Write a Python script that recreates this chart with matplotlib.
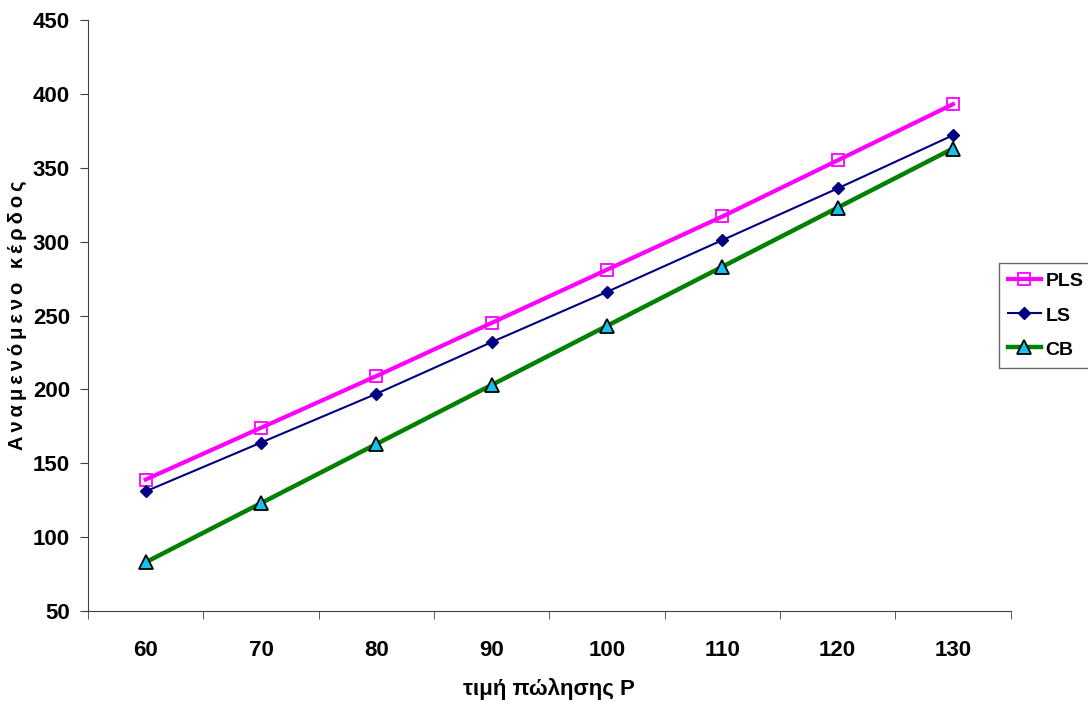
import numpy as np
from matplotlib import pyplot as plt
from matplotlib.ticker import FixedLocator

# data
prices = [60, 70, 80, 90, 100, 110, 120, 130]
pls = [139, 174, 209, 245, 281, 317, 355, 393]
ls = [131, 164, 197, 232, 266, 301, 336, 372]
cb = [83, 123, 163, 203, 243, 283, 323, 363]

plt.rcParams["font.family"] = ["Liberation Sans", "DejaVu Sans"]
plt.rcParams["font.weight"] = "bold"

fig = plt.figure(figsize=(10.88, 7.13), dpi=100)
ax = fig.add_axes([0.0809, 0.143, 0.848, 0.829])

x = np.arange(len(prices))
ax.plot(x, pls, color="#FF00FF", lw=3, marker="s", ms=9, mfc="none",
        mec="#FF00FF", mew=1.3, label="PLS")
ax.plot(x, ls, color="#000080", lw=1.5, marker="D", ms=6, mfc="#000080",
        mec="#000080", label="LS")
ax.plot(x, cb, color="#008000", lw=3.2, marker="^", ms=10, mfc="#14C3EE",
        mec="black", mew=1.3, label="CB")

ax.set_xlim(-0.5, len(prices) - 0.5)
ax.set_ylim(50, 450)
ax.set_yticks(np.arange(50, 451, 50))

# category axis: labels at categories, ticks between them
ax.set_xticks(x)
ax.set_xticklabels([str(p) for p in prices])
ax.tick_params(axis="x", which="major", length=0, pad=21, labelsize=16)
ax.xaxis.set_minor_locator(FixedLocator(np.arange(-0.5, len(prices), 1.0)))
ax.tick_params(axis="x", which="minor", length=6, direction="out", color="#404040")
ax.tick_params(axis="y", length=6, direction="out", labelsize=16, pad=7, color="#404040")

for s in ["top", "right"]:
    ax.spines[s].set_visible(False)
for s in ["left", "bottom"]:
    ax.spines[s].set_color("#404040")

ax.set_xlabel("τιμή πώλησης P", fontsize=16, fontweight="bold", labelpad=12)
ax.set_ylabel("\u2009".join("Αναμενόμενο κέρδος"), fontsize=14.5, fontweight="bold")
ax.yaxis.set_label_coords(-0.066, 0.5)

leg = ax.legend(loc="center left", bbox_to_anchor=(0.918, 0.558),
                bbox_transform=fig.transFigure, frameon=True, fancybox=False,
                edgecolor="#404040", fontsize=14, handlelength=1.7,
                borderpad=0.45, labelspacing=0.8, handletextpad=0.25,
                borderaxespad=0, handleheight=0.9)
leg.get_frame().set_linewidth(1.0)

fig.savefig("out.png", dpi=100)
